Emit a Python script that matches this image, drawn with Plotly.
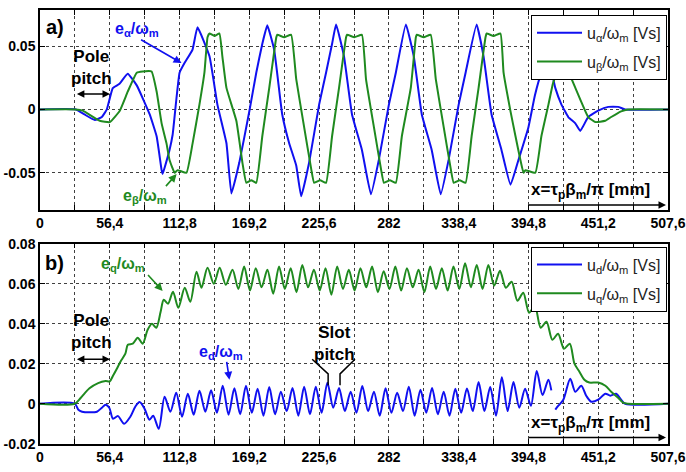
import plotly.graph_objects as go

# ---------------- data ----------------
# Panel a): alpha/beta components
X_ALPHA = [0, 29, 36, 44.3, 50, 54, 58.8, 64, 70.9, 78.2, 88.6, 94.3, 98.3, 99.1, 104.7, 107.2,
           112.8, 116.8, 123.3, 127.3, 137, 143.4, 150.7, 154.7, 161.1, 169.2, 174.8, 179.7,
           183.7, 189.3, 195.8, 201.4, 207.1, 211.1, 217.5, 225.6, 231.2, 236.1, 239.3, 245.7,
           252.2, 260.2, 267.5, 273.9, 282, 287.6, 295.7, 302.1, 308.6, 316.6, 323.9, 330.3,
           338.4, 344, 352.9, 358.5, 365, 373, 380.3, 386.7, 394.8, 400, 405.3, 410.9, 416.5,
           421.4, 427, 432.7, 436.7, 443.1, 451.2, 459.3, 467.3, 473, 507.6]
U_ALPHA = [0, 0, -0.004, -0.0084, -0.006, 0.0, 0.0168, 0.02, 0.0282, 0.019, -0.0038, -0.0214,
           -0.048, -0.051, -0.032, -0.02, 0.029, 0.0366, 0.0473, 0.0649, 0.042, 0.0038, -0.0267,
           -0.0664, -0.042, -0.0015, 0.029, 0.0519, 0.0664, 0.047, -0.004, -0.0267, -0.0443,
           -0.0687, -0.042, 0.0038, 0.029, 0.0519, 0.0671, 0.042, -0.004, -0.032, -0.0671,
           -0.0397, 0.0038, 0.029, 0.0671, 0.042, -0.004, -0.032, -0.0671, -0.0397, 0.0038,
           0.029, 0.067, 0.042, -0.004, -0.032, -0.0595, -0.04, -0.014, 0.011, 0.029, 0.04,
           0.017, 0.004, -0.006, -0.011, -0.017, -0.006, -0.001, 0.002, 0.002, 0.0, 0.0]

X_BETA = [0, 29, 34.6, 48.3, 56.4, 64.5, 70.9, 78.2, 83, 90.2, 94.3, 98.3, 102.3, 104.7, 108.8,
          111.2, 118.4, 123.3, 128.9, 132.9, 135.4, 137, 141, 145, 147.4, 150.7, 158.7, 163.6,
          166.8, 170.8, 174.8, 179.7, 185.3, 191, 191.8, 197.4, 203, 207.1, 213.5, 219.2, 221.6,
          226.4, 231.2, 236.1, 241.7, 247.4, 248.2, 254.2, 260.2, 263.5, 269.9, 275.6, 278,
          282.8, 287.6, 292.5, 299.7, 303.8, 304.6, 310.2, 315.8, 319.9, 326.3, 332, 334.4,
          339.2, 344, 348.9, 354.5, 360.1, 361, 366.6, 372.2, 374.7, 380.3, 384.3, 388.3, 390.8,
          392.4, 400.4, 405.3, 411, 415, 419, 427, 432.7, 437.5, 443.1, 448.8, 456.8, 461.7,
          469.7, 475.4, 507.6]
U_BETA = [0, 0, -0.001, -0.009, -0.01, -0.001, 0.014, 0.029, 0.030, 0.030, 0.014, -0.011, -0.027,
          -0.040, -0.050, -0.048, -0.050, -0.027, 0.004, 0.029, 0.057, 0.060, 0.058, 0.060, 0.042,
          0.017, -0.009, -0.042, -0.058, -0.056, -0.058, -0.021, 0.017, 0.057, 0.059, 0.057,
          0.059, 0.024, -0.014, -0.047, -0.058, -0.056, -0.058, -0.021, 0.017, 0.057, 0.059,
          0.057, 0.059, 0.024, -0.014, -0.047, -0.058, -0.056, -0.058, -0.021, 0.017, 0.057,
          0.059, 0.057, 0.059, 0.024, -0.014, -0.047, -0.058, -0.056, -0.058, -0.021, 0.017,
          0.057, 0.060, 0.058, 0.060, 0.029, -0.0015, -0.021, -0.040, -0.050, -0.048, -0.050,
          -0.021, 0.004, 0.022, 0.029, 0.029, 0.017, 0.006, -0.006, -0.010, -0.009, -0.006,
          -0.0015, 0.0, 0.0]

# Panel b): d/q components
X_D = [0, 28, 31, 34, 40, 46, 50, 53, 56, 59, 63, 68, 73, 77, 80.5, 84.5, 88.5, 91.5, 96,
       100.7, 105.4, 110.1, 114.8, 119.5, 124.2, 128.9, 133.6, 138.3, 143.0, 147.7, 152.4,
       157.1, 161.8, 166.5, 171.2, 175.9, 180.6, 185.3, 190.0, 194.7, 199.4, 204.1, 208.8,
       213.5, 218.2, 222.9, 227.6, 232.3, 237.0, 241.7, 246.4, 251.1, 255.8, 260.5, 265.2,
       269.9, 274.6, 279.3, 284.0, 288.7, 293.4, 298.1, 302.8, 307.5, 312.2, 316.9, 321.6,
       326.3, 331.0, 335.7, 340.4, 345.1, 349.8, 354.5, 359.2, 363.9, 368.6, 373.3, 378.0,
       382.7, 387.4, 392.1, 396.8, 401.5, 406.2, 410.9, 413.3, None,
       416.5, 419, 423, 428.6, 432.7, 437.5, 441.5, 445.6, 451.2, 457, 461, 465.7, 469.7, 473,
       507.6]
U_D = [0, 0, -0.0030, -0.0040, -0.0043, -0.0040, -0.0020, -0.0005, -0.0020, -0.0075, -0.0062,
       -0.0100, -0.0065, -0.0015, 0.0008, -0.0025, -0.0080, -0.0060, -0.0125, 0.0035, -0.0040,
       0.0055, -0.0065, 0.0050, -0.0055, 0.0065, -0.0040, 0.0067, -0.0045, 0.0090, -0.0055,
       0.0077, -0.0053, 0.0090, -0.0045, 0.0075, -0.0060, 0.0083, -0.0053, 0.0060, -0.0037,
       0.0078, -0.0060, 0.0085, -0.0053, 0.0085, -0.0045, 0.0105, -0.0020, 0.0078, -0.0037,
       0.0060, -0.0045, 0.0088, -0.0037, 0.0060, -0.0060, 0.0077, -0.0045, 0.0055, -0.0037,
       0.0085, -0.0060, 0.0070, -0.0045, 0.0078, -0.0053, 0.0060, -0.0060, 0.0075, -0.0045,
       0.0076, -0.0037, 0.0108, -0.0037, 0.0084, -0.0060, 0.0132, -0.0037, 0.0108, -0.0020,
       0.0075, -0.0010, 0.0164, 0.0043, 0.0120, 0.0067, None,
       -0.003, -0.001, 0.002, 0.0125, 0.006, 0.009, 0.004, 0.001, 0.002, 0.005, 0.004, 0.005,
       0.002, 0.0, 0.0]

X_Q = [0, 28, 33, 40, 47, 53, 56.4, 59, 62, 65, 69, 71, 75, 79, 83, 87, 90.5, 94, 97.5, 100,
       103.5, 107.5, 111.8, 117, 121.5, 126.5, 130.5, 135.4, 140.5, 145.2, 150.2, 155.6,
       160.3, 165.0, 169.7, 174.4, 179.1, 183.8, 188.5, 193.2, 197.9, 202.6, 207.3, 212.0,
       216.7, 221.4, 226.1, 230.8, 235.5, 240.2, 244.9, 249.6, 254.3, 259.0, 263.7, 268.4,
       273.1, 277.8, 282.5, 287.2, 291.9, 296.6, 301.3, 306.0, 310.7, 315.4, 320.1, 324.8,
       329.5, 334.2, 338.9, 343.6, 348.3, 353.0, 357.7, 362.4, 367.1,
       371.8, 376.5, 381.2, 385.9, 390.6, 395.3, 400.0, 404.7, 409.4, 414.1, 418.8, 423.5,
       428.2, 432, 436, 440, 444, 451.2, 457, 461.7, 467.3, 471.3, 475.4, 507.6]
U_Q = [0, 0, 0.003, 0.0077, 0.0103, 0.0113, 0.0112, 0.014, 0.0174, 0.021, 0.025, 0.0295, 0.0300,
       0.0330, 0.0300, 0.0370, 0.0400, 0.0380, 0.0460, 0.0520, 0.0500, 0.0560, 0.0480, 0.0580,
       0.0510, 0.0660, 0.0580, 0.0680, 0.0600, 0.0680, 0.0595, 0.0670,
       0.0574, 0.0686, 0.0566, 0.0678, 0.0582, 0.0670, 0.0550, 0.0686, 0.0574, 0.0678, 0.0558,
       0.0694, 0.0582, 0.0670, 0.0566, 0.0678, 0.0545, 0.0686, 0.0574, 0.0670, 0.0566, 0.0678,
       0.0582, 0.0686, 0.0558, 0.0662, 0.0574, 0.0686, 0.0566, 0.0678, 0.0582, 0.0670, 0.0558,
       0.0686, 0.0574, 0.0678, 0.0566, 0.0686, 0.0574, 0.0702, 0.0582, 0.0694, 0.0574, 0.0694,
       0.0590,
       0.0665, 0.0580, 0.0610, 0.0515, 0.0555, 0.0455, 0.0490, 0.0380, 0.0410, 0.0320, 0.0350,
       0.0275, 0.0300, 0.0200, 0.0160, 0.0120, 0.0106, 0.0106, 0.0090, 0.0060, 0.0030, 0.0005,
       0.0, 0.0]

X_TICKS = [0, 28.2, 56.4, 84.6, 112.8, 141.0, 169.2, 197.4, 225.6, 253.8, 282.0, 310.2, 338.4,
           366.6, 394.8, 423.0, 451.2, 479.4, 507.6]
X_LABELS = ["0", "", "56,4", "", "112,8", "", "169,2", "", "225,6", "", "282", "", "338,4", "",
            "394,8", "", "451,2", "", "507,6"]
Y1_TICKS = [-0.05, 0, 0.05]
Y1_LABELS = ["-0.05", "0", "0.05"]
Y2_TICKS = [-0.02, 0, 0.02, 0.04, 0.06, 0.08]
Y2_LABELS = ["-0.02", "0", "0.02", "0.04", "0.06", "0.08"]

BLUE = "#1010F0"
GREEN = "#1F8A1F"
FONT = "Liberation Sans"

fig = go.Figure()
fig.add_trace(go.Scatter(x=X_ALPHA, y=U_ALPHA, mode="lines",
                         line=dict(color=BLUE, width=2, shape="spline", smoothing=0.35),
                         name="u<sub>α</sub>/ω<sub>m</sub> [Vs]", xaxis="x", yaxis="y",
                         legend="legend", legendgroup="a1"))
fig.add_trace(go.Scatter(x=X_BETA, y=U_BETA, mode="lines",
                         line=dict(color=GREEN, width=2, shape="spline", smoothing=0.35),
                         name="u<sub>β</sub>/ω<sub>m</sub> [Vs]", xaxis="x", yaxis="y",
                         legend="legend", legendgroup="a2"))
fig.add_trace(go.Scatter(x=X_D, y=U_D, mode="lines",
                         line=dict(color=BLUE, width=2, shape="spline", smoothing=0.8),
                         name="u<sub>d</sub>/ω<sub>m</sub> [Vs]", xaxis="x2", yaxis="y2",
                         legend="legend2", legendgroup="b1", connectgaps=False))
fig.add_trace(go.Scatter(x=X_Q, y=U_Q, mode="lines",
                         line=dict(color=GREEN, width=2, shape="spline", smoothing=0.8),
                         name="u<sub>q</sub>/ω<sub>m</sub> [Vs]", xaxis="x2", yaxis="y2",
                         legend="legend2", legendgroup="b2"))

H = 472.0
tickfont = dict(family=FONT, size=14, color="black", weight="bold")
common_x = dict(range=[0, 507.6001], tickmode="array", tickvals=X_TICKS, ticktext=X_LABELS,
                ticks="inside", ticklen=5, tickcolor="black", tickwidth=1,
                showline=True, linecolor="black", linewidth=1.5, mirror="ticks",
                showgrid=True, gridcolor="rgba(0,0,0,0.75)", griddash="dot", gridwidth=1,
                zeroline=False, tickfont=tickfont, ticklabeloverflow="allow")
common_y = dict(ticks="inside", ticklen=5, tickcolor="black", tickwidth=1,
                showline=True, linecolor="black", linewidth=1.5, mirror="ticks",
                showgrid=True, gridcolor="rgba(0,0,0,0.75)", griddash="dot", gridwidth=1,
                zeroline=False, tickfont=tickfont, tickmode="array")

legend_common = dict(bgcolor="white", bordercolor="black", borderwidth=1,
                     font=dict(family=FONT, size=16, color="#222"),
                     xanchor="right", yanchor="top", x=629 / 630.0,
                     tracegroupgap=5, itemwidth=45)

fig.update_layout(
    width=686, height=472,
    margin=dict(l=40, r=16, t=0, b=0),
    paper_bgcolor="white", plot_bgcolor="white",
    xaxis=dict(domain=[0, 1], anchor="y", **common_x),
    yaxis=dict(domain=[(H - 209) / H, (H - 2) / H], anchor="x", range=[-0.0794, 0.0786],
               tickvals=Y1_TICKS, ticktext=Y1_LABELS, **common_y),
    xaxis2=dict(domain=[0, 1], anchor="y2", **common_x),
    yaxis2=dict(domain=[(H - 451) / H, (H - 244) / H], anchor="x2", range=[-0.02, 0.08],
                tickvals=Y2_TICKS, ticktext=Y2_LABELS, **common_y),
    legend=dict(y=(H - 7) / H, **legend_common),
    legend2=dict(y=(H - 247) / H, **legend_common),
    showlegend=True,
)

bold = lambda s, c="black": dict(family=FONT, size=s, color=c, weight="bold")
ann = []
# panel a
ann.append(dict(x=12.1, y=0.0649, xref="x", yref="y", text="a)", showarrow=False, font=bold(20)))
ann.append(dict(x=78.2, y=0.0633, xref="x", yref="y", text="e<sub>α</sub>/ω<sub>m</sub>",
                showarrow=False, font=bold(16, BLUE)))
ann.append(dict(x=114.4, y=0.0366, ax=80.5, ay=0.0557, xref="x", yref="y", axref="x", ayref="y",
                text="", showarrow=True, arrowhead=2, arrowsize=1, arrowwidth=1.6,
                arrowcolor=BLUE))
ann.append(dict(x=84.6, y=-0.0687, xref="x", yref="y", text="e<sub>β</sub>/ω<sub>m</sub>",
                showarrow=False, font=bold(16, GREEN)))
ann.append(dict(x=110.4, y=-0.0511, ax=100.7, ay=-0.0618, xref="x", yref="y", axref="x",
                ayref="y", text="", showarrow=True, arrowhead=2, arrowsize=1, arrowwidth=1.6,
                arrowcolor=GREEN))
ann.append(dict(x=41.9, y=0.0328, xref="x", yref="y", text="Pole<br>pitch", showarrow=False,
                font=bold(17)))
ann.append(dict(x=56.6, y=0.0122, ax=28.6, ay=0.0122, xref="x", yref="y", axref="x", ayref="y",
                text="", showarrow=True, arrowhead=2, arrowside="end+start", arrowsize=1,
                arrowwidth=1.5, arrowcolor="black"))
ann.append(dict(x=445, y=-0.0645, xref="x", yref="y",
                text="x=τ<sub>p</sub>β<sub>m</sub>/π [mm]", showarrow=False, font=bold(17)))
ann.append(dict(x=506, y=-0.0755, ax=394, ay=-0.0755, xref="x", yref="y", axref="x", ayref="y",
                text="", showarrow=True, arrowhead=2, arrowsize=1, arrowwidth=1.5,
                arrowcolor="black"))
# panel b
ann.append(dict(x=12.1, y=0.0704, xref="x2", yref="y2", text="b)", showarrow=False, font=bold(20)))
ann.append(dict(x=66.9, y=0.0694, xref="x2", yref="y2", text="e<sub>q</sub>/ω<sub>m</sub>",
                showarrow=False, font=bold(16, GREEN)))
ann.append(dict(x=99.1, y=0.0564, ax=86.2, ay=0.0651, xref="x2", yref="y2", axref="x2",
                ayref="y2", text="", showarrow=True, arrowhead=2, arrowsize=1, arrowwidth=1.6,
                arrowcolor=GREEN))
ann.append(dict(x=41.9, y=0.0362, xref="x2", yref="y2", text="Pole<br>pitch", showarrow=False,
                font=bold(17)))
ann.append(dict(x=56.6, y=0.0222, ax=28.6, ay=0.0222, xref="x2", yref="y2", axref="x2",
                ayref="y2", text="", showarrow=True, arrowhead=2, arrowside="end+start",
                arrowsize=1, arrowwidth=1.5, arrowcolor="black"))
ann.append(dict(x=146.6, y=0.0255, xref="x2", yref="y2", text="e<sub>d</sub>/ω<sub>m</sub>",
                showarrow=False, font=bold(16, BLUE)))
ann.append(dict(x=153.1, y=0.0120, ax=150.7, ay=0.0217, xref="x2", yref="y2", axref="x2",
                ayref="y2", text="", showarrow=True, arrowhead=2, arrowsize=1, arrowwidth=1.6,
                arrowcolor=BLUE))
ann.append(dict(x=237.7, y=0.0299, xref="x2", yref="y2", text="Slot<br>pitch", showarrow=False,
                font=bold(17)))
ann.append(dict(x=445, y=-0.0101, xref="x2", yref="y2",
                text="x=τ<sub>p</sub>β<sub>m</sub>/π [mm]", showarrow=False, font=bold(17)))
ann.append(dict(x=506, y=-0.0169, ax=394, ay=-0.0169, xref="x2", yref="y2", axref="x2",
                ayref="y2", text="", showarrow=True, arrowhead=2, arrowsize=1, arrowwidth=1.5,
                arrowcolor="black"))
fig.update_layout(annotations=ann)

fig.update_layout(shapes=[
    dict(type="path", xref="x2", yref="y2", path="M 220,0.0222 L 232.9,0.0149 L 232.9,0.0092",
         line=dict(color="black", width=1.5)),
    dict(type="path", xref="x2", yref="y2", path="M 254.6,0.0222 L 242.5,0.0149 L 242.5,0.0092",
         line=dict(color="black", width=1.5)),
])

fig.write_html("out.html")
